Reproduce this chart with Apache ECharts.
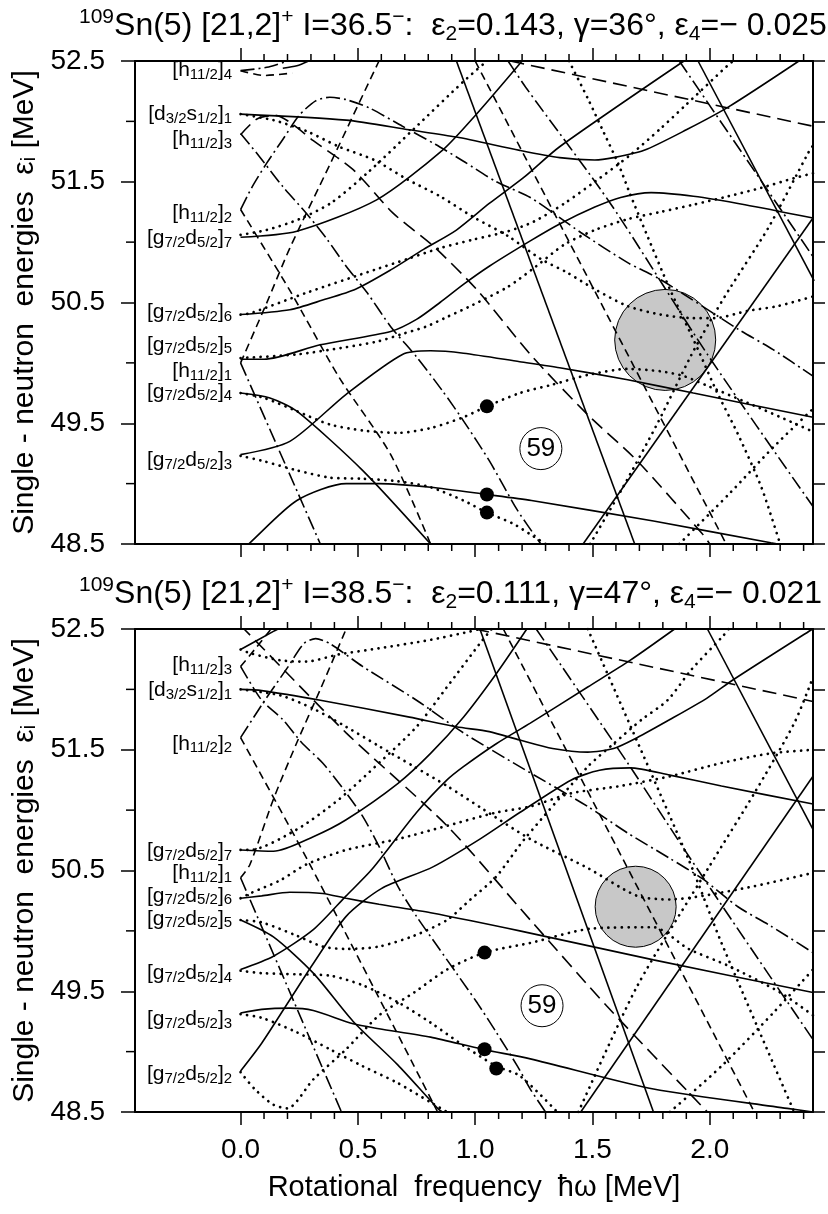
<!DOCTYPE html>
<html>
<head>
<meta charset="utf-8">
<script src="https://cdn.jsdelivr.net/npm/echarts@6/dist/echarts.min.js"></script>
<style>
html, body { margin: 0; padding: 0; background: #fff; }
#chart { width: 828px; height: 1214px; }
</style>
</head>
<body>
<div id="chart"></div>
<script>
// axis ranges and ticks
const xMin = -0.45, xMax = 2.44;
const yMin = 48.5, yMax = 52.5;
const xMajor = [0, 0.5, 1, 1.5, 2];
const xMinor = [0.1, 0.2, 0.3, 0.4, 0.6, 0.7, 0.8, 0.9, 1.1, 1.2, 1.3, 1.4, 1.6, 1.7, 1.8, 1.9, 2.1, 2.2, 2.3, 2.4];
const yMajor = [48.5, 49.5, 50.5, 51.5, 52.5];
const yMinor = [49, 50, 51, 52];
const yRight = [48.5, 49, 49.5, 50, 50.5, 51, 51.5, 52, 52.5];

const titles = [
  '{sup|109}Sn(5) [21,2]{sup|+} I=36.5{sup|−}:  ε{sub|2}=0.143, γ=36°, ε{sub|4}=− 0.025',
  '{sup|109}Sn(5) [21,2]{sup|+} I=38.5{sup|−}:  ε{sub|2}=0.111, γ=47°, ε{sub|4}=− 0.021'
];

// level labels at ħω = 0
const topLabelNames = ['[h{s|11/2}]{s|4}', '[d{s|3/2}s{s|1/2}]{s|1}', '[h{s|11/2}]{s|3}', '[h{s|11/2}]{s|2}', '[g{s|7/2}d{s|5/2}]{s|7}',
  '[g{s|7/2}d{s|5/2}]{s|6}', '[g{s|7/2}d{s|5/2}]{s|5}', '[h{s|11/2}]{s|1}', '[g{s|7/2}d{s|5/2}]{s|4}', '[g{s|7/2}d{s|5/2}]{s|3}'];
const topLabelY = [52.42, 52.06, 51.85, 51.24, 51.03, 50.42, 50.15, 49.93, 49.76, 49.19];
const botLabelNames = ['[h{s|11/2}]{s|3}', '[d{s|3/2}s{s|1/2}]{s|1}', '[h{s|11/2}]{s|2}', '[g{s|7/2}d{s|5/2}]{s|7}', '[h{s|11/2}]{s|1}',
  '[g{s|7/2}d{s|5/2}]{s|6}', '[g{s|7/2}d{s|5/2}]{s|5}', '[g{s|7/2}d{s|5/2}]{s|4}', '[g{s|7/2}d{s|5/2}]{s|3}', '[g{s|7/2}d{s|5/2}]{s|2}'];
const botLabelY = [52.2, 51.99, 51.55, 50.66, 50.48, 50.29, 50.1, 49.65, 49.27, 48.81];

// markers
const topDots = [[1.05, 49.64], [1.05, 48.91], [1.05, 48.76]];
const botDots = [[1.04, 49.82], [1.04, 49.02], [1.09, 48.86]];
const topGray = [[1.81, 50.19]];
const botGray = [[1.684, 50.2]];
const topNum = [[1.28, 49.29]];
const botNum = [[1.285, 49.38]];
const numText = '59';

// ---- upper panel routhians ----
const t_s1 = [[0,52.06],[0.45,52.01],[0.72,51.93],[0.92,51.87],[1.19,51.76],[1.36,51.70],[1.51,51.68],[1.59,51.70],[1.72,51.76],[1.90,51.93],[2.08,52.12],[2.38,52.5]];
const t_s2 = [[0,51.04],[0.24,51.09],[0.58,51.35],[0.86,51.76],[1.01,52.07],[1.20,52.5]];
const t_s3 = [[0,50.40],[0.21,50.44],[0.35,50.52],[0.49,50.61],[0.64,50.77],[0.78,50.94],[0.92,51.1],[1.06,51.32],[1.21,51.54],[1.36,51.79],[1.89,52.5]];
const t_s4 = [[0,50.03],[0.10,50.03],[0.34,50.15],[0.64,50.26],[0.75,50.36],[0.85,50.5],[0.95,50.65],[1.06,50.8],[1.235,51.01],[1.36,51.15],[1.51,51.29],[1.62,51.37],[1.75,51.41],[1.93,51.38],[2.15,51.31],[2.44,51.2]];
const t_s5 = [[0,49.75],[0.125,49.71],[0.24,49.60],[0.52,49.11],[0.81,48.5]];
const t_s6 = [[0,49.24],[0.21,49.35],[0.45,49.74],[0.69,50.07],[0.81,50.10],[0.95,50.08],[1.19,50.01],[1.36,49.96],[1.65,49.86],[1.93,49.75],[2.44,49.55]];
const t_s7 = [[0,48.44],[0.04,48.51],[0.24,48.86],[0.45,49.0],[0.59,49.0],[0.81,48.97],[1.05,48.91],[1.24,48.86],[1.76,48.69],[2.26,48.51],[2.44,48.45]];
const t_s8 = [[0.92,52.5],[1.68,48.5]];
const t_s9 = [[1.46,48.5],[2.44,51.2]];
const t_s10 = [[1.95,52.5],[2.445,50.68]];
const t_s11 = [[0.18,52.44],[0.24,52.46],[0.29,52.5]];

const t_d1 = [[0,50.0],[0.11,50.49],[0.21,50.95],[0.38,51.64],[0.59,52.5]];
const t_d2 = [[0,51.27],[0.21,50.60],[0.42,49.88],[0.64,49.24],[0.81,48.5]];
const t_d3 = [[0,51.89],[0.07,52.02],[0.15,52.05],[0.22,51.98],[0.31,51.84],[0.48,51.6],[0.65,51.24],[0.82,50.97],[1.01,50.6],[1.235,50.07],[1.48,49.57],[1.69,49.19],[1.97,48.58],[2.0,48.5]];
const t_d4 = [[1.0,52.5],[2.07,48.5]];
const t_d5 = [[1.15,52.5],[2.44,51.96]];
const t_d6 = [[0,52.42],[0.1,52.38],[0.22,52.40]];

const t_dd1 = [[0,50.0],[0.34,48.5]];
const t_dd2 = [[0,51.27],[0.05,51.46],[0.11,51.65],[0.18,51.85],[0.25,52.05],[0.32,52.17],[0.38,52.2],[0.45,52.18],[0.55,52.11],[0.69,51.96],[0.83,51.81],[0.95,51.67],[1.09,51.50],[1.235,51.37],[1.45,51.08],[1.65,50.83],[1.79,50.69],[2.12,50.28],[2.27,50.11],[2.44,49.89]];
const t_dd3 = [[0,51.9],[0.08,51.71],[0.18,51.46],[0.28,51.24],[0.37,51.02],[0.45,50.80],[0.54,50.58],[0.64,50.3],[0.75,50.05],[0.86,49.77],[0.95,49.52],[1.06,49.19],[1.18,48.78],[1.28,48.5]];
const t_dd4 = [[1.14,52.5],[1.22,52.27],[1.58,51.31],[1.99,50.07],[2.44,48.81]];
const t_dd5 = [[1.87,52.5],[2.44,50.88]];
const t_dd6 = [[0,52.42],[0.12,52.45],[0.2,52.5]];

const t_p1 = [[0,52.06],[0.14,52.01],[0.28,51.92],[0.42,51.79],[0.57,51.68],[0.71,51.52],[0.85,51.38],[0.99,51.21],[1.14,51.05],[1.28,50.86],[1.39,50.75],[1.51,50.61],[1.65,50.47],[1.79,50.40],[1.93,50.37],[2.02,50.37],[2.16,50.43],[2.29,50.47],[2.44,50.55]];
const t_p2 = [[0,51.06],[0.11,51.10],[0.25,51.19],[0.39,51.33],[0.55,51.59],[0.74,51.94],[0.95,52.33],[1.05,52.5]];
const t_p3 = [[0,50.40],[0.04,50.41],[0.28,50.58],[0.57,50.77],[0.71,50.86],[0.85,50.95],[0.99,51.02],[1.14,51.09],[1.25,51.17],[1.38,51.32],[1.51,51.5],[1.66,51.72],[1.79,51.94],[1.90,52.14],[2.08,52.47],[2.1,52.5]];
const t_p4 = [[0,50.04],[0.24,50.07],[0.45,50.13],[0.59,50.18],[0.69,50.24],[0.79,50.3],[0.88,50.38],[0.99,50.48],[1.14,50.63],[1.26,50.8],[1.38,50.98],[1.51,51.10],[1.65,51.19],[1.79,51.25],[1.93,51.31],[2.08,51.38],[2.22,51.45],[2.36,51.53],[2.44,51.57]];
const t_p5 = [[1.40,52.5],[1.48,52.19],[1.55,51.9],[1.61,51.65],[1.66,51.4],[1.73,51.07],[1.83,50.61],[1.95,50.11],[2.03,49.76],[2.12,49.41],[2.22,48.97],[2.30,48.5]];
const t_p6 = [[1.49,48.5],[1.63,48.97],[1.78,49.51],[1.92,50.06],[2.0,50.34],[2.08,50.6],[2.25,51.12],[2.42,51.74],[2.44,51.8]];
const t_p7 = [[0,49.75],[0.1,49.71],[0.24,49.60],[0.38,49.49],[0.52,49.44],[0.67,49.42],[0.81,49.46],[0.95,49.55],[1.05,49.64],[1.19,49.75],[1.33,49.82],[1.48,49.9],[1.65,49.95],[1.79,49.93],[1.89,49.89],[1.99,49.81],[2.16,49.67],[2.36,49.50],[2.44,49.43]];
const t_p8 = [[0,49.23],[0.09,49.19],[0.24,49.11],[0.38,49.05],[0.52,49.04],[0.67,49.02],[0.81,48.97],[0.95,48.86],[1.05,48.76],[1.16,48.67],[1.235,48.58],[1.3,48.5]];
const t_p9 = [[1.87,48.5],[2.08,48.91],[2.27,49.3],[2.44,49.62]];

// ---- lower panel routhians ----
const b_s0 = [[0,52.33],[0.14,52.48],[0.16,52.5]];
const b_s1 = [[0,52.0],[0.09,51.99],[0.34,51.91],[0.72,51.77],[0.92,51.69],[1.06,51.65],[1.19,51.58],[1.33,51.51],[1.48,51.48],[1.59,51.51],[1.69,51.60],[1.83,51.75],[1.99,51.93],[2.10,52.08],[2.43,52.49],[2.44,52.5]];
const b_s2 = [[0,50.67],[0.14,50.66],[0.31,50.78],[0.45,50.92],[0.67,51.22],[0.81,51.47],[0.95,51.77],[1.09,52.13],[1.22,52.5]];
const b_s3 = [[0,49.68],[0.14,49.79],[0.31,50.01],[0.45,50.29],[0.56,50.51],[0.75,50.98],[0.88,51.25],[0.95,51.36],[1.09,51.55],[1.235,51.72],[1.48,52.02],[1.66,52.24],[1.85,52.5]];
const b_s4 = [[0,50.27],[0.09,50.29],[0.21,50.32],[0.35,50.31],[0.45,50.27],[0.59,50.22],[0.81,50.15],[1.19,50.0],[1.76,49.76],[2.44,49.49]];
const b_s5 = [[0,49.32],[0.09,49.35],[0.21,49.36],[0.31,49.34],[0.48,49.23],[0.59,49.19],[0.81,49.12],[1.03,49.02],[1.235,48.94],[1.76,48.69],[2.33,48.53],[2.44,48.5]];
const b_s6 = [[0,50.09],[0.14,49.95],[0.31,49.65],[0.48,49.25],[0.67,48.89],[0.84,48.53],[0.86,48.5]];
const b_s7 = [[0,48.84],[0.09,49.07],[0.21,49.43],[0.31,49.73],[0.45,50.12],[0.6,50.35],[0.82,50.53],[1.02,50.76],[1.19,50.98],[1.41,51.25],[1.53,51.33],[1.66,51.35],[1.83,51.29],[2.05,51.2],[2.44,51.05]];
const b_s8 = [[1.02,52.5],[1.76,48.5]];
const b_s9 = [[1.45,48.5],[2.44,51.28]];
const b_s10 = [[1.99,52.5],[2.44,50.84]];

const b_d1 = [[0,52.53],[0.02,52.49],[0.45,51.64],[0.88,50.87],[1.235,50.09],[1.56,49.38],[1.99,48.5]];
const b_d2 = [[0,50.44],[0.04,50.55],[0.14,51.09],[0.24,51.56],[0.34,52.0],[0.45,52.5]];
const b_d3 = [[0,51.6],[0.29,50.57],[0.84,48.5]];
const b_d4 = [[1.12,52.5],[2.19,48.5]];
const b_d5 = [[1.0,52.5],[2.44,51.9]];
const b_d6 = [[0,52.19],[0.06,52.33],[0.13,52.5]];

const b_dd1 = [[0,50.44],[0.43,48.5]];
const b_dd2 = [[0,51.6],[0.1,51.9],[0.2,52.18],[0.27,52.38],[0.32,52.42],[0.38,52.38],[0.52,52.19],[0.75,51.91],[0.95,51.64],[1.19,51.36],[1.48,51.03],[1.65,50.81],[1.83,50.6],[1.97,50.43],[2.12,50.2],[2.26,50.04],[2.44,49.82]];
const b_dd3 = [[0,52.19],[0.09,51.91],[0.18,51.75],[0.26,51.56],[0.35,51.39],[0.44,51.17],[0.52,50.95],[0.59,50.7],[0.67,50.37],[0.75,50.12],[0.84,49.87],[0.92,49.65],[1.01,49.40],[1.09,49.16],[1.18,48.88],[1.235,48.69],[1.3,48.5]];
const b_dd4 = [[1.26,52.5],[1.65,51.39],[1.9,50.65],[2.09,50.1],[2.44,49.1]];

const b_p1 = [[0,52.33],[0.04,52.30],[0.17,52.24],[0.28,52.23],[0.42,52.29],[0.59,52.34],[0.81,52.41],[0.98,52.48],[1.02,52.5]];
const b_p2 = [[0,52.0],[0.17,51.95],[0.31,51.84],[0.45,51.69],[0.59,51.53],[0.74,51.36],[0.88,51.2],[1.04,51.0],[1.235,50.76],[1.48,50.52],[1.69,50.29],[1.83,50.26],[1.97,50.29],[2.19,50.37],[2.44,50.48]];
const b_p3 = [[0,50.67],[0.04,50.67],[0.24,50.84],[0.42,51.09],[0.59,51.39],[0.75,51.69],[0.88,52.02],[1.02,52.38],[1.07,52.5]];
const b_p4 = [[0,50.27],[0.04,50.31],[0.17,50.42],[0.28,50.55],[0.45,50.67],[0.67,50.76],[0.88,50.87],[1.09,50.98],[1.235,51.03],[1.41,51.14],[1.62,51.2],[1.83,51.28],[2.05,51.39],[2.26,51.47],[2.44,51.5]];
const b_p5 = [[0,50.09],[0.09,50.07],[0.24,49.96],[0.35,49.87],[0.45,49.85],[0.59,49.87],[0.74,49.96],[0.88,50.09],[0.98,50.26],[1.09,50.45],[1.21,50.76],[1.48,51.36],[1.59,51.55],[1.71,51.75],[1.82,51.91],[1.92,52.16],[2.06,52.45],[2.08,52.5]];
const b_p6 = [[0,49.67],[0.09,49.65],[0.24,49.64],[0.38,49.63],[0.52,49.55],[0.67,49.41],[0.81,49.24],[0.95,49.05],[1.09,48.88],[1.19,48.8],[1.35,48.5]];
const b_p7 = [[0,49.31],[0.09,49.28],[0.24,49.16],[0.38,49.02],[0.52,48.88],[0.67,48.74],[0.81,48.58],[0.88,48.5]];
const b_p8 = [[0,48.83],[0.06,48.69],[0.14,48.56],[0.2,48.53],[0.31,48.77],[0.45,49.02],[0.59,49.3],[0.74,49.49],[0.88,49.68],[1.04,49.82],[1.235,49.9],[1.5,50.02],[1.76,50.03],[1.91,49.85],[2.08,49.71],[2.3,49.49],[2.44,49.3]];
const b_p9 = [[1.48,52.5],[1.91,50.59],[2.05,49.9],[2.36,48.5]];
const b_p10 = [[1.44,48.5],[1.69,49.54],[2.0,50.54],[2.19,51.14],[2.36,51.72],[2.44,52.1]];
const b_p11 = [[1.83,48.5],[2.05,48.88],[2.27,49.32],[2.44,49.68]];

const topCurves = [
  [t_s1,'solid'],[t_s2,'solid'],[t_s3,'solid'],[t_s4,'solid'],[t_s5,'solid'],[t_s6,'solid'],[t_s7,'solid'],[t_s8,'solid'],[t_s9,'solid'],[t_s10,'solid'],[t_s11,'solid'],
  [t_d1,'dash'],[t_d2,'dash'],[t_d3,'long'],[t_d4,'dash'],[t_d5,'long'],[t_d6,'dash'],
  [t_dd1,'dashdot'],[t_dd2,'dashdot'],[t_dd3,'dashdot'],[t_dd4,'dashdot'],[t_dd5,'dashdot'],[t_dd6,'dashdot'],
  [t_p1,'dot'],[t_p2,'dot'],[t_p3,'dot'],[t_p4,'dot'],[t_p5,'dot'],[t_p6,'dot'],[t_p7,'dot'],[t_p8,'dot'],[t_p9,'dot']
];
const botCurves = [
  [b_s0,'solid'],[b_s1,'solid'],[b_s2,'solid'],[b_s3,'solid'],[b_s4,'solid'],[b_s5,'solid'],[b_s6,'solid'],[b_s7,'solid'],[b_s8,'solid'],[b_s9,'solid'],[b_s10,'solid'],
  [b_d1,'long'],[b_d2,'dash'],[b_d3,'dash'],[b_d4,'dash'],[b_d5,'long'],[b_d6,'dash'],
  [b_dd1,'dashdot'],[b_dd2,'dashdot'],[b_dd3,'dashdot'],[b_dd4,'dashdot'],
  [b_p1,'dot'],[b_p2,'dot'],[b_p3,'dot'],[b_p4,'dot'],[b_p5,'dot'],[b_p6,'dot'],[b_p7,'dot'],[b_p8,'dot'],[b_p9,'dot'],[b_p10,'dot'],[b_p11,'dot']
];

const FONT = '"Liberation Sans", Arial, sans-serif';
const subRich = { s: { fontSize: 15, lineHeight: 14, verticalAlign: 'bottom', fontFamily: FONT, color: '#000' } };

function lineSeries(pts, style, g) {
  const ls = { color: '#000', width: 1.6 };
  if (style === 'dot') { ls.type = [0.1, 6.6]; ls.cap = 'round'; ls.width = 2.7; }
  else if (style === 'dash') ls.type = [8, 5];
  else if (style === 'long') ls.type = [14, 7];
  else if (style === 'dashdot') ls.type = [14, 4, 2, 4];
  return {
    type: 'line', xAxisIndex: g * 2, yAxisIndex: g * 2, data: pts,
    showSymbol: false, symbol: 'none', smooth: pts.length > 2 ? 0.25 : false,
    lineStyle: ls, z: 3, silent: true
  };
}

const frameLine = { show: true, onZero: false, lineStyle: { color: '#000', width: 2 } };
const tickStyle = (vals, len) => ({ show: true, inside: false, length: len, customValues: vals, lineStyle: { color: '#000', width: 1.5 } });

function xAxes(g, showLabel) {
  const base = { gridIndex: g, type: 'value', min: xMin, max: xMax, splitLine: { show: false }, axisLine: frameLine, axisTick: tickStyle(xMajor, 13) };
  const bottom = Object.assign({}, base, {
    position: 'bottom',
    axisLabel: showLabel ? { show: true, customValues: xMajor, formatter: v => v.toFixed(1), fontSize: 28, fontFamily: FONT, color: '#000', margin: 24 } : { show: false }
  });
  if (showLabel) {
    bottom.name = 'Rotational  frequency  ħω [MeV]';
    bottom.nameLocation = 'middle';
    bottom.nameGap = 61;
    bottom.nameTextStyle = { fontSize: 29, fontFamily: FONT, color: '#000' };
  }
  return [bottom, Object.assign({}, base, { position: 'top', axisLabel: { show: false } })];
}

function yAxes(g) {
  const base = { gridIndex: g, type: 'value', min: yMin, max: yMax, splitLine: { show: false }, axisLine: frameLine };
  return [
    Object.assign({}, base, {
      position: 'left', axisTick: tickStyle(yMajor, 14),
      axisLabel: { show: true, customValues: yMajor, formatter: v => v.toFixed(1), fontSize: 28, fontFamily: FONT, color: '#000', margin: 30 },
      name: 'Single - neutron  energies  ε{s|i} [MeV]', nameLocation: 'middle', nameGap: 93,
      nameTextStyle: { fontSize: 30, fontFamily: FONT, color: '#000', rich: { s: { fontSize: 20, fontFamily: FONT, color: '#000', verticalAlign: 'bottom', lineHeight: 22 } } }
    }),
    Object.assign({}, base, { position: 'right', axisTick: tickStyle(yRight, 12), axisLabel: { show: false } })
  ];
}

// short minor ticks on the frame, placed through the axis scales
function minorTicks(g) {
  const tick = (x1, y1, x2, y2) => ({ type: 'line', shape: { x1, y1, x2, y2 }, style: { stroke: '#000', lineWidth: 1.5 } });
  return [
    { type: 'custom', xAxisIndex: g * 2, yAxisIndex: g * 2, clip: false, silent: true, z: 4,
      data: xMinor.map(v => [v, yMax]),
      renderItem: (params, api) => {
        const t = api.coord([api.value(0), yMax]);
        const b = api.coord([api.value(0), yMin]);
        return { type: 'group', children: [tick(t[0], t[1], t[0], t[1] - 7), tick(b[0], b[1], b[0], b[1] + 7)] };
      } },
    { type: 'custom', xAxisIndex: g * 2, yAxisIndex: g * 2, clip: false, silent: true, z: 4,
      data: yMinor.map(v => [xMin, v]),
      renderItem: (params, api) => {
        const p = api.coord([xMin, api.value(1)]);
        return tick(p[0], p[1], p[0] - 9, p[1]);
      } }
  ];
}

function markers(g, names, ys, dots, gray, num) {
  const xi = g * 2, yi = g * 2;
  return [
    { type: 'scatter', xAxisIndex: xi, yAxisIndex: yi, data: gray, symbolSize: g === 0 ? 101 : 81, z: 1, silent: true,
      itemStyle: { color: '#c8c8c8', opacity: 1, borderColor: '#000', borderWidth: 1 } },
    { type: 'scatter', xAxisIndex: xi, yAxisIndex: yi, data: dots, symbolSize: 14, z: 5, silent: true, itemStyle: { color: '#000', opacity: 1 } },
    { type: 'scatter', xAxisIndex: xi, yAxisIndex: yi, data: num, symbolSize: 42, z: 6, silent: true,
      itemStyle: { color: '#fff', opacity: 1, borderColor: '#000', borderWidth: 1 },
      label: { show: true, position: 'inside', formatter: numText, fontSize: 26, fontFamily: FONT, color: '#000' } },
    { type: 'scatter', xAxisIndex: xi, yAxisIndex: yi, symbolSize: 1, z: 7, silent: true,
      data: ys.map((y, i) => [0, y, names[i]]), itemStyle: { color: 'rgba(0,0,0,0)', opacity: 1 },
      label: { show: true, position: 'left', distance: 8, formatter: p => p.data[2], fontSize: 21, lineHeight: 24,
        fontFamily: FONT, color: '#000', opacity: 1, rich: subRich } }
  ];
}

const titleRich = {
  sup: { fontSize: 21, lineHeight: 21, verticalAlign: 'top', fontFamily: FONT, color: '#000' },
  sub: { fontSize: 21, lineHeight: 21, verticalAlign: 'bottom', fontFamily: FONT, color: '#000' }
};
const titleStyle = { fontSize: 32, lineHeight: 38, fontWeight: 'normal', fontFamily: FONT, color: '#000', rich: titleRich };

const chart = echarts.init(document.getElementById('chart'), null, { renderer: 'canvas' });
chart.setOption({
  animation: false,
  backgroundColor: '#fff',
  title: [
    { text: titles[0], left: 74, top: 2, textStyle: titleStyle },
    { text: titles[1], left: 74, top: 570, textStyle: titleStyle }
  ],
  grid: [
    { left: 135, right: 15, top: 61, height: 483 },
    { left: 135, right: 15, top: 629, height: 483 }
  ],
  xAxis: xAxes(0, false).concat(xAxes(1, true)),
  yAxis: yAxes(0).concat(yAxes(1)),
  series: []
    .concat(minorTicks(0)).concat(minorTicks(1))
    .concat(markers(0, topLabelNames, topLabelY, topDots, topGray, topNum))
    .concat(markers(1, botLabelNames, botLabelY, botDots, botGray, botNum))
    .concat(topCurves.map(c => lineSeries(c[0], c[1], 0)))
    .concat(botCurves.map(c => lineSeries(c[0], c[1], 1)))
});
</script>
</body>
</html>
